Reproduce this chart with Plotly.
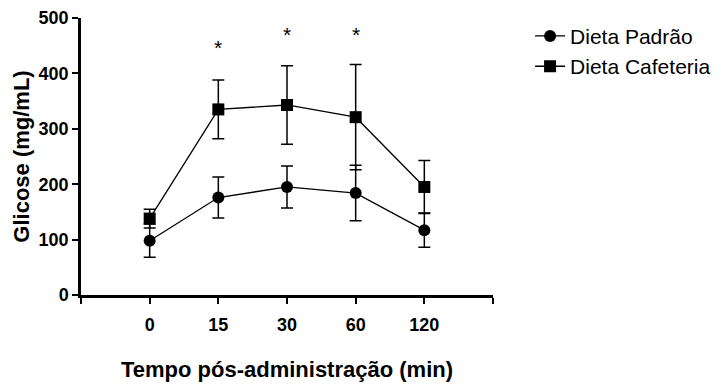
import plotly.graph_objects as go

categories = ["0", "15", "30", "60", "120"]
padrao_mean = [98, 176, 195, 184, 117]
padrao_sd = [30, 37, 38, 50, 31]
cafeteria_mean = [138, 335, 343, 321, 195]
cafeteria_sd = [17, 53, 71, 95, 48]
star_positions = [1, 2, 3]
star_y = [447, 470, 470]

xpos = list(range(len(categories)))
FONT = "Liberation Sans, Arial, sans-serif"

fig = go.Figure()
fig.add_trace(go.Scatter(
    x=xpos, y=padrao_mean, name="Dieta Padrão", mode="lines+markers",
    legendgroup="a",
    line=dict(color="black", width=1.3),
    marker=dict(symbol="circle", size=12, color="black"),
    error_y=dict(type="data", array=padrao_sd, visible=True, color="black", thickness=1.5, width=6),
))
fig.add_trace(go.Scatter(
    x=xpos, y=cafeteria_mean, name="Dieta Cafeteria", mode="lines+markers",
    legendgroup="b",
    line=dict(color="black", width=1.3),
    marker=dict(symbol="square", size=12, color="black"),
    error_y=dict(type="data", array=cafeteria_sd, visible=True, color="black", thickness=1.5, width=6),
))

for xp, ys in zip(star_positions, star_y):
    fig.add_annotation(x=xp, y=ys, text="*", showarrow=False,
                       font=dict(family=FONT, size=21, color="black"))

fig.update_layout(
    width=713, height=377,
    margin=dict(l=73, r=228, t=10, b=90, autoexpand=False),
    paper_bgcolor="white", plot_bgcolor="white",
    font=dict(family=FONT, color="black"),
    showlegend=True,
    legend=dict(x=1.09, y=1.008, xanchor="left", yanchor="top",
                font=dict(size=21, color="black", family=FONT), bgcolor="rgba(0,0,0,0)",
                tracegroupgap=0),
)
fig.update_xaxes(
    range=[-1, 5], tickmode="array", automargin=False,
    tickvals=[-1, 0, 1, 2, 3, 4, 5], ticktext=[""] + categories + [""],
    showline=True, linecolor="black", linewidth=2.5, ticks="outside",
    ticklen=6, tickwidth=2, tickcolor="black", showgrid=False, zeroline=False,
    tickfont=dict(size=18, family=FONT, color="black", weight="bold"),
    ticklabelstandoff=6,
    title=dict(text="<b>Tempo pós-administração (min)</b>", font=dict(size=22, family=FONT), standoff=28),
)
fig.update_yaxes(
    range=[0, 500], tickvals=[0, 100, 200, 300, 400, 500], automargin=False,
    showline=True, linecolor="black", linewidth=2.5, ticks="outside",
    ticklen=6, tickwidth=2, tickcolor="black", showgrid=False, zeroline=False,
    tickfont=dict(size=18, family=FONT, color="black", weight="bold"),
    title=dict(text="<b>Glicose (mg/mL)</b>", font=dict(size=22, family=FONT), standoff=3),
)

fig.write_html("out.html")
